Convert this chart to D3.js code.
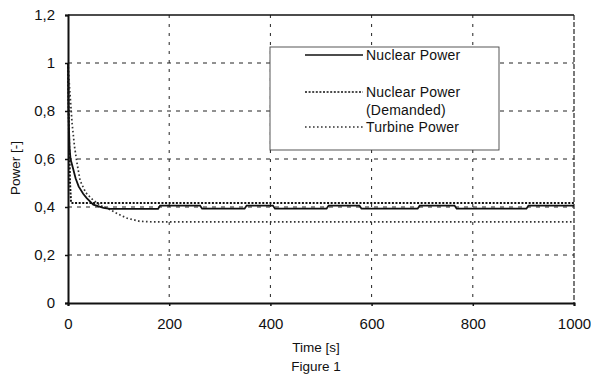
<!DOCTYPE html>
<html lang="en">
<head>
    <meta charset="UTF-8">
    <title>Figure 1</title>
    <script src="https://d3js.org/d3.v7.min.js"></script>
    <style>
        body {
            margin: 0;
            background-color: #ffffff;
            font-family: "Liberation Sans", Arial, sans-serif;
        }
        svg { display: block; }
        .tick-label { font-size: 15px; fill: #111; }
        .title-label { font-size: 13.5px; fill: #111; }
        .legend-text { font-size: 14px; fill: #111; letter-spacing: 0.2px; }
    </style>
</head>
<body>
    <svg id="chart"></svg>

    <script>
        // time [s] and power [-] for each curve
        const nuclearTime = [0, 1, 3, 5, 10, 15, 21, 30, 37, 50, 70, 83, 178, 182, 261, 265, 349, 353, 405, 409, 511, 515, 576, 580, 691, 695, 764, 768, 906, 910, 1000];
        const nuclearPower = [1.0, 0.8, 0.65, 0.6, 0.56, 0.52, 0.486, 0.455, 0.437, 0.41, 0.396, 0.392, 0.392, 0.406, 0.406, 0.393, 0.393, 0.406, 0.406, 0.393, 0.393, 0.406, 0.406, 0.393, 0.393, 0.406, 0.406, 0.393, 0.393, 0.406, 0.406];

        const demandTime = [0, 1, 2, 4, 6, 1000];
        const demandPower = [1.0, 0.85, 0.7, 0.5, 0.417, 0.417];

        const turbineTime = [0, 3, 8, 13, 18, 24, 35, 49, 65, 83, 100, 116, 142, 170, 1000];
        const turbinePower = [1.0, 0.9, 0.75, 0.65, 0.58, 0.51, 0.46, 0.43, 0.405, 0.389, 0.37, 0.354, 0.34, 0.338, 0.338];

        const yTicks = [0, 0.2, 0.4, 0.6, 0.8, 1, 1.2];
        const xTicks = [0, 200, 400, 600, 800, 1000];
        const legendNames = ["Nuclear Power", "Nuclear Power", "Turbine Power"];

        const W = 591, H = 379;
        const margin = { top: 15, right: 17, bottom: 76, left: 68 };
        const width = W - margin.left - margin.right;
        const height = H - margin.top - margin.bottom;

        const svg = d3.select("#chart")
            .attr("width", W)
            .attr("height", H);

        const g = svg.append("g")
            .attr("transform", `translate(${margin.left},${margin.top})`);

        const x = d3.scaleLinear().domain([0, 1000]).range([0, width]);
        const y = d3.scaleLinear().domain([0, 1.2]).range([height, 0]);

        const commaLocale = d3.formatLocale({ decimal: ",", thousands: ".", grouping: [3], currency: ["", ""] });
        const yFormat = commaLocale.format("~g");

        // grid
        g.selectAll(".hgrid")
            .data(yTicks.slice(1, -1))
            .enter().append("line")
            .attr("x1", 0).attr("x2", width)
            .attr("y1", d => y(d)).attr("y2", d => y(d))
            .attr("stroke", "#222")
            .attr("stroke-width", 1)
            .attr("stroke-dasharray", "4,5");

        g.selectAll(".vgrid")
            .data(xTicks.slice(1, -1))
            .enter().append("line")
            .attr("x1", d => x(d)).attr("x2", d => x(d))
            .attr("y1", 0).attr("y2", height)
            .attr("stroke", "#222")
            .attr("stroke-width", 1)
            .attr("stroke-dasharray", "3,6");

        // frame: top solid, right dashed
        g.append("line")
            .attr("x1", 0).attr("x2", width)
            .attr("y1", 0).attr("y2", 0)
            .attr("stroke", "#111").attr("stroke-width", 1.5);
        g.append("line")
            .attr("x1", width).attr("x2", width)
            .attr("y1", 0).attr("y2", height)
            .attr("stroke", "#222").attr("stroke-width", 1.2)
            .attr("stroke-dasharray", "5,2");

        // axes
        const yAxis = g.append("g")
            .call(d3.axisLeft(y).tickValues(yTicks).tickFormat(yFormat).tickSize(3).tickPadding(10));
        const xAxis = g.append("g")
            .attr("transform", `translate(0,${height})`)
            .call(d3.axisBottom(x).tickValues(xTicks).tickFormat(d3.format("d")).tickSize(3).tickPadding(12));

        [yAxis, xAxis].forEach(ax => {
            ax.attr("font-size", null).attr("font-family", null);
            ax.select(".domain").attr("stroke", "#111").attr("stroke-width", 2);
            ax.selectAll(".tick line").attr("stroke", "#111").attr("stroke-width", 1.5);
            ax.selectAll(".tick text").attr("class", "tick-label");
        });

        // curves
        const line = d3.line()
            .x(d => x(d[0]))
            .y(d => y(d[1]));

        const zip = (a, b) => a.map((v, i) => [v, b[i]]);

        const series = [
            { name: legendNames[0], data: zip(nuclearTime, nuclearPower), color: "#111", width: 1.8, dash: null },
            { name: legendNames[1], data: zip(demandTime, demandPower), color: "#111", width: 2, dash: "2,1.6" },
            { name: legendNames[2], data: zip(turbineTime, turbinePower), color: "#333", width: 1.7, dash: "1.6,2.4" }
        ];

        series.slice().reverse().forEach(s => {
            g.append("path")
                .datum(s.data)
                .attr("fill", "none")
                .attr("stroke", s.color)
                .attr("stroke-width", s.width)
                .attr("stroke-dasharray", s.dash)
                .attr("d", line);
        });

        // legend
        const legend = svg.append("g").attr("transform", "translate(270,47)");
        legend.append("rect")
            .attr("width", 229).attr("height", 103)
            .attr("fill", "#fff")
            .attr("stroke", "#444")
            .attr("stroke-width", 0.9);

        const legendRows = [8, 45, 80];
        series.forEach((s, i) => {
            legend.append("line")
                .attr("x1", 35).attr("x2", 93)
                .attr("y1", legendRows[i]).attr("y2", legendRows[i])
                .attr("stroke", s.color)
                .attr("stroke-width", s.width * 0.8)
                .attr("stroke-dasharray", s.dash);
            legend.append("text")
                .attr("class", "legend-text")
                .attr("x", 96)
                .attr("y", legendRows[i] + 5)
                .text(s.name);
        });
        legend.append("text")
            .attr("class", "legend-text")
            .attr("x", 96)
            .attr("y", legendRows[1] + 23)
            .text("(Demanded)");

        // titles
        svg.append("text")
            .attr("class", "title-label")
            .attr("text-anchor", "middle")
            .attr("x", 316).attr("y", 352)
            .text("Time [s]");
        svg.append("text")
            .attr("class", "title-label")
            .attr("text-anchor", "middle")
            .attr("x", 316).attr("y", 371)
            .text("Figure 1");
        svg.append("text")
            .attr("class", "title-label")
            .attr("text-anchor", "middle")
            .attr("transform", "translate(20,168) rotate(-90)")
            .text("Power [-]");
    </script>
</body>
</html>
